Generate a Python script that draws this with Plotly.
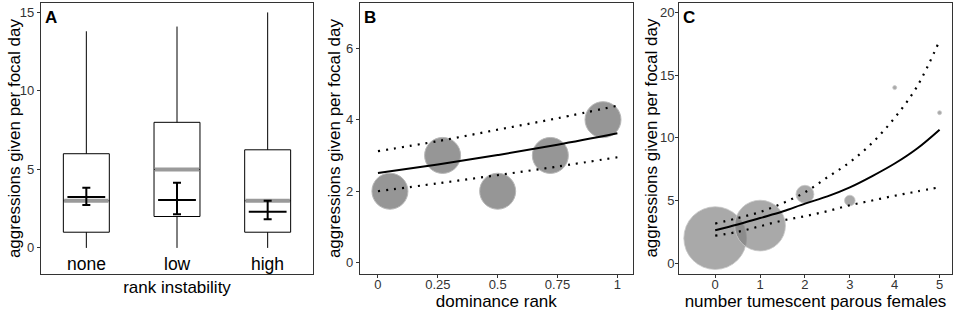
import plotly.graph_objects as go

# ---------------- data ----------------
# Panel A: rank instability
a_categories = ["none", "low", "high"]
a_q1 = [1, 2, 1]
a_median = [3, 5, 3]
a_q3 = [6, 8, 6.25]
a_lower = [0, 0, 0]
a_upper = [13.8, 14.1, 15]
a_mean = [3.25, 3.05, 2.3]
a_se_low = [2.73, 2.15, 1.83]
a_se_high = [3.84, 4.15, 3.0]

# Panel B: dominance rank
b_rank = [0.05, 0.27, 0.5, 0.72, 0.94]
b_aggr = [2, 3, 2, 3, 4]
b_fit_x = [0, 0.25, 0.5, 0.75, 1]
b_fit = [2.51, 2.75, 3.01, 3.30, 3.62]
b_fit_hi = [3.12, 3.40, 3.72, 4.04, 4.39]
b_fit_lo = [2.0, 2.22, 2.45, 2.69, 2.95]
b_xticks = [0, 0.25, 0.5, 0.75, 1]
b_xticktext = ["0", "0.25", "0.5", "0.75", "1"]

# Panel C: number tumescent parous females
c_n_females = [0, 1, 2, 3, 4, 5]
c_aggr = [2, 3, 5.5, 5, 14, 12]
c_count = [246, 161, 20, 7, 1, 1]
c_fit_x = [0, 0.5, 1, 1.5, 2, 2.5, 3, 3.5, 4, 4.5, 5]
c_fit = [2.63, 3.08, 3.6, 4.12, 4.75, 5.33, 6.05, 6.95, 7.95, 9.15, 10.65]
c_fit_hi = [3.16, 3.6, 4.08, 4.78, 5.65, 6.85, 8.05, 9.6, 11.6, 14.1, 17.75]
c_fit_lo = [2.2, 2.5, 2.95, 3.4, 3.75, 4.15, 4.62, 5.0, 5.38, 5.72, 6.06]

# ---------------- style ----------------
FONT = "Liberation Sans, Arial, sans-serif"
W, H = 957, 315
YDOM = [1 - 273.5 / H, 1 - 2.7 / H]
AXCOL = "#333333"
TICKFONT = dict(family=FONT, size=13, color="#333333")
TITLEFONT = dict(family=FONT, size=17, color="black")
YTITLE = "aggressions given per focal day"
DOT = "2px,6px"

fig = go.Figure()

# ---- Panel A ----
a_pos = list(range(1, len(a_categories) + 1))
fig.add_trace(go.Box(
    x=a_pos, q1=a_q1, median=a_median, q3=a_q3,
    lowerfence=a_lower, upperfence=a_upper,
    width=0.507, whiskerwidth=0, boxpoints=False,
    fillcolor="white", line=dict(color="black", width=1),
    xaxis="x", yaxis="y", showlegend=False, hoverinfo="skip"))

med_x, med_y = [], []
for p, m in zip(a_pos, a_median):
    med_x += [p - 0.245, p + 0.245, None]
    med_y += [m, m, None]
fig.add_trace(go.Scatter(
    x=med_x, y=med_y, mode="lines",
    line=dict(color="#9a9a9a", width=4),
    xaxis="x", yaxis="y", showlegend=False, hoverinfo="skip"))

fig.add_trace(go.Scatter(
    x=a_pos, y=a_mean, mode="markers",
    marker=dict(symbol="line-ew", size=27, line=dict(color="black", width=2)),
    error_y=dict(type="data", symmetric=False,
                 array=[h - m for h, m in zip(a_se_high, a_mean)],
                 arrayminus=[m - l for m, l in zip(a_mean, a_se_low)],
                 color="black", thickness=2, width=4),
    xaxis="x", yaxis="y", showlegend=False, hoverinfo="skip"))

# ---- Panel B ----
fig.add_trace(go.Scatter(
    x=b_rank, y=b_aggr, mode="markers",
    marker=dict(size=36, color="#969696", opacity=1, line=dict(color="#b8b8b8", width=1)),
    xaxis="x2", yaxis="y2", showlegend=False, hoverinfo="skip"))
for ys, dash in [(b_fit, "solid"), (b_fit_hi, DOT), (b_fit_lo, DOT)]:
    fig.add_trace(go.Scatter(
        x=b_fit_x, y=ys, mode="lines",
        line=dict(color="black", width=2.2 if dash != "solid" else 2, dash=dash, shape="spline"),
        xaxis="x2", yaxis="y2", showlegend=False, hoverinfo="skip"))

# ---- Panel C ----
c_size = [4 * (n ** 0.5) for n in c_count]
fig.add_trace(go.Scatter(
    x=c_n_females, y=c_aggr, mode="markers",
    marker=dict(size=c_size, color="rgba(125,125,125,0.66)", opacity=1,
                line=dict(color="rgba(200,200,200,0.8)", width=1)),
    xaxis="x3", yaxis="y3", showlegend=False, hoverinfo="skip"))
for ys, dash in [(c_fit, "solid"), (c_fit_hi, DOT), (c_fit_lo, DOT)]:
    fig.add_trace(go.Scatter(
        x=c_fit_x, y=ys, mode="lines",
        line=dict(color="black", width=2.2 if dash != "solid" else 2, dash=dash, shape="spline"),
        xaxis="x3", yaxis="y3", showlegend=False, hoverinfo="skip"))

axis_common = dict(showline=True, mirror=True, linecolor=AXCOL, linewidth=1.3,
                   ticks="outside", ticklen=3, tickcolor=AXCOL, tickwidth=1,
                   showgrid=False, zeroline=False, tickfont=TICKFONT)
axis_noticks = {k: v for k, v in axis_common.items() if k != "ticks"}

fig.update_layout(
    width=W, height=H, margin=dict(l=0, r=0, t=0, b=0),
    paper_bgcolor="white", plot_bgcolor="white", template="none",
    font=dict(family=FONT),
    xaxis=dict(domain=[41 / W, 313 / W], range=[0.5, 3.5], showticklabels=False,
               ticks="", **axis_noticks,
               title=dict(text="rank instability", font=TITLEFONT, standoff=7)),
    yaxis=dict(domain=YDOM, range=[-1.63, 15.62], tickvals=[0, 5, 10, 15], **axis_common),
    xaxis2=dict(domain=[360 / W, 632.7 / W], range=[-0.075, 1.064], anchor="y2",
                tickvals=b_xticks, ticktext=b_xticktext, ticklabelstandoff=-4, **axis_common,
                title=dict(text="dominance rank", font=TITLEFONT, standoff=3)),
    yaxis2=dict(domain=YDOM, range=[-0.30, 7.27], anchor="x2", tickvals=[0, 2, 4, 6], **axis_common),
    xaxis3=dict(domain=[679.3 / W, 951.7 / W], range=[-0.80, 5.27], anchor="y3",
                tickvals=c_n_females, ticklabelstandoff=-4, **axis_common,
                title=dict(text="number tumescent parous females", font=TITLEFONT, standoff=3)),
    yaxis3=dict(domain=YDOM, range=[-0.82, 20.77], anchor="x3", tickvals=[0, 5, 10, 15, 20],
                ticklabelstandoff=-2, **axis_common),
)

annotations = []
# y-axis titles, one per panel (vertical text beside each axis)
ymid = 1 - (2.7 + 273.5) / 2 / H
for xpx in [14, 334, 651.5]:
    annotations.append(dict(x=xpx / W, y=ymid, xref="paper", yref="paper", text=YTITLE,
                            textangle=-90, showarrow=False, xanchor="center", yanchor="middle",
                            font=TITLEFONT))
for p, c in zip(a_pos, a_categories):
    annotations.append(dict(x=p, y=-1.05, xref="x", yref="y", text=c, showarrow=False,
                            font=dict(family=FONT, size=17.5, color="black"), yanchor="middle"))
for lab, xr, yr in [("A", "x domain", "y domain"), ("B", "x2 domain", "y2 domain"),
                    ("C", "x3 domain", "y3 domain")]:
    annotations.append(dict(x=0.008, y=0.987, xref=xr, yref=yr, text="<b>" + lab + "</b>",
                            showarrow=False, xanchor="left", yanchor="top",
                            font=dict(family=FONT, size=17, color="black")))
fig.update_layout(annotations=annotations)

fig.write_html("out.html", config={"displayModeBar": False},
               post_script="document.body.style.margin='0px';document.body.style.overflow='hidden';")
